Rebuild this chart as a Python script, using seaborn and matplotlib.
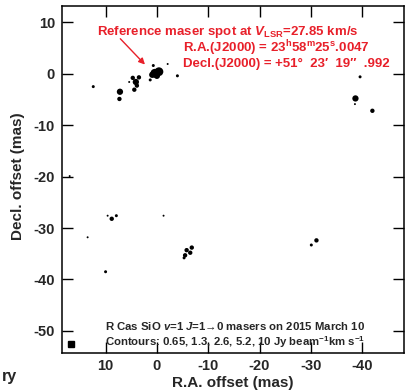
import numpy as np
import pandas as pd
import matplotlib
matplotlib.use("Agg")
import matplotlib.pyplot as plt
import seaborn as sns

# Maser spot positions (mas offsets from reference spot) and peak level
ra_offset = [12.4, 7.2, 7.3, 5.4, 4.7, 4.1, 3.9, 4.4, 3.5, 1.3, 0.7,
             0.4, -0.4, 0.9, 0.0, -2.1, -4.0,
             -39.6, -38.7, -38.6, -42.0,
             17.0, 8.8, 7.9, 9.6, -1.3, 13.5,
             -6.8, -5.8, -6.5, -5.5, -5.3,
             -31.1, -30.1, 10.0]
dec_offset = [-2.5, -3.5, -4.9, -1.6, -0.8, -1.6, -2.3, -3.1, -0.7, -1.2, 1.6,
              0.1, 0.4, -0.2, -0.4, 1.9, -0.4,
              -0.6, -4.8, -5.9, -7.2,
              -19.9, -28.2, -27.6, -27.6, -27.6, -31.8,
              -33.8, -34.3, -34.8, -35.3, -35.8,
              -32.4, -33.3, -38.5]
peak = [1.3, 5.2, 2.6, 0.65, 2.6, 5.2, 2.6, 2.6, 2.6, 1.3, 1.3,
        10, 10, 5.2, 5.2, 0.65, 1.3,
        1.3, 5.2, 0.65, 2.6,
        0.65, 2.6, 1.3, 0.65, 0.65, 0.65,
        2.6, 2.6, 2.6, 2.6, 1.3,
        2.6, 1.3, 1.3]

# beam position
beam_x = [16.8]
beam_y = [-52.6]

x_ticks = [10, 0, -10, -20, -30, -40]
y_ticks = [10, 0, -10, -20, -30, -40, -50]

df = pd.DataFrame({"ra": ra_offset, "dec": dec_offset, "peak": peak})

sns.set_style("ticks")
plt.rcParams["font.family"] = ["Liberation Sans", "DejaVu Sans"]
plt.rcParams["font.weight"] = "bold"
plt.rcParams["axes.unicode_minus"] = False
plt.rcParams["mathtext.fontset"] = "custom"
plt.rcParams["mathtext.rm"] = "Liberation Sans:bold"
plt.rcParams["mathtext.bf"] = "Liberation Sans:bold"
plt.rcParams["mathtext.it"] = "Liberation Sans:bold:italic"

fig = plt.figure(figsize=(4.05, 3.92), dpi=100)
ax = fig.add_axes([0.153, 0.0995, 0.845, 0.8855])

sns.scatterplot(data=df, x="ra", y="dec", size="peak", sizes=(2, 40),
                size_norm=(0.65, 10), color="black", edgecolor="none",
                legend=False, ax=ax)
ax.plot(beam_x, beam_y, marker="s", markersize=4.2, color="black", linestyle="none")

ax.set_xlim(18.5, -48.2)
ax.set_ylim(-54.3, 13.2)
ax.set_xticks(x_ticks)
ax.set_yticks(y_ticks)
ax.tick_params(direction="in", length=8, width=1, top=True, right=True,
               labelsize=10.5, color="black")
ax.tick_params(axis="x", pad=4)
ax.tick_params(axis="y", pad=5)
for lab in ax.get_xticklabels() + ax.get_yticklabels():
    lab.set_fontweight("bold")
for sp in ax.spines.values():
    sp.set_linewidth(1.1)
    sp.set_color("black")

ax.set_xlabel("R.A. offset (mas)", fontsize=11, fontweight="bold")
ax.set_ylabel("Decl. offset (mas)", fontsize=11, fontweight="bold")
ax.xaxis.set_label_coords(0.5, -0.066)
ax.yaxis.set_label_coords(-0.108, 0.51)

red = "#e8202a"
ax.annotate("", xy=(1.95, 1.4), xytext=(7.5, 7.2),
            arrowprops=dict(arrowstyle="-|>", color=red, lw=1.0,
                            mutation_scale=9))
ax.text(11.6, 8.2, r"Reference maser spot at $\mathit{V}_{\mathrm{LSR}}$=27.85 km/s",
        color=red, fontsize=9.5, fontweight="bold", va="center", ha="left")
ax.text(-5.1, 5.05, r"R.A.(J2000) = 23$^{\mathrm{h}}$58$^{\mathrm{m}}$25$^{\mathrm{s}}$.0047",
        color=red, fontsize=9.5, fontweight="bold", va="center", ha="left")
ax.text(-5.1, 1.95, "Decl.(J2000) = +51\u00b0  23\u2032  19\u2033  .992",
        color=red, fontsize=9.5, fontweight="bold", va="center", ha="left")

ax.text(10.2, -49.0, r"R Cas SiO $\mathit{v}$=1 $\mathit{J}$=1" + "\u2192" + "0 masers on 2015 March 10",
        fontsize=8.2, fontweight="bold", va="center", ha="left")
ax.text(10.2, -52.2, r"Contours: 0.65, 1.3, 2.6, 5.2, 10 Jy beam$^{\mathrm{-1}}$km s$^{\mathrm{-1}}$",
        fontsize=8.2, fontweight="bold", va="center", ha="left")

fig.text(0.005, 0.028, "ry", fontsize=11.5, fontweight="bold", ha="left", va="baseline")

fig.savefig("out.png", dpi=100)
